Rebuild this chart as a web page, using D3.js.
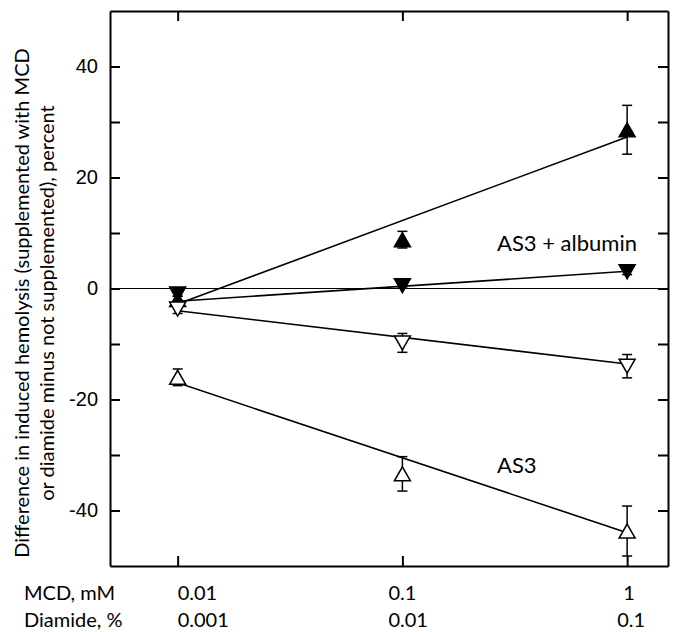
<!DOCTYPE html>
<html>
<head>
<meta charset="utf-8">
<script src="https://cdn.jsdelivr.net/npm/d3@7"></script>
<style>
  body { margin: 0; background: #fff; }
  svg { display: block; }
</style>
</head>
<body>
<div id="chart"></div>
<script>
// concentrations on the x axis (MCD, mM) and the matching diamide labels
var mcd = [0.01, 0.1, 1];
var mcdLabels = ["0.01", "0.1", "1"];
var diamideLabels = ["0.001", "0.01", "0.1"];
var yTicks = [-40, -30, -20, -10, 0, 10, 20, 30, 40];

// AS3 + albumin
var albUp = [-2.0, 8.8, 28.6];
var albUpErr = [0.6, 1.5, 4.4];
var albUpFit = [-2.8, 27.3];
var albDown = [-1.0, 0.5, 3.0];
var albDownErr = [0.4, 0.4, 0.5];
var albDownFit = [-2.3, 3.1];

// AS3
var as3Down = [-3.7, -9.8, -14.0];
var as3DownErr = [0.8, 1.7, 2.1];
var as3DownFit = [-4.0, -13.6];
var as3Up = [-16.0, -33.4, -43.7];
var as3UpErr = [1.5, 3.1, 4.5];
var as3UpFit = [-17.0, -44.0];

var width = 677, height = 632;
var plotLeft = 110, plotRight = 668, plotTop = 11, plotBottom = 566;

var svg = d3.select("#chart").append("svg")
    .attr("width", width)
    .attr("height", height);

svg.append("rect")
    .attr("width", width)
    .attr("height", height)
    .attr("fill", "#fff");

var x = d3.scaleLog().domain([0.005, 1.52]).range([plotLeft, plotRight]);
var y = d3.scaleLinear().domain([-50, 50]).range([plotBottom, plotTop]);

// frame with inward ticks on all four sides
function styleAxis(g) {
  g.selectAll("path.domain").attr("stroke", "#000").attr("stroke-width", 2);
  g.selectAll(".tick line").attr("stroke", "#000").attr("stroke-width", 2);
}

svg.append("g")
    .attr("transform", "translate(" + plotLeft + ",0)")
    .call(d3.axisLeft(y).tickValues(yTicks).tickSizeInner(-10).tickSizeOuter(0).tickPadding(12)
      .tickFormat(function(d) { return d % 20 === 0 ? d : ""; }))
    .call(styleAxis)
    .call(function(g) {
      g.selectAll("text")
        .attr("font-family", "Liberation Sans, Arial, sans-serif")
        .attr("font-size", 20)
        .attr("fill", "#000");
    });

svg.append("g")
    .attr("transform", "translate(" + plotRight + ",0)")
    .call(d3.axisRight(y).tickValues(yTicks).tickSizeInner(-10).tickSizeOuter(0).tickFormat(""))
    .call(styleAxis);

svg.append("g")
    .attr("transform", "translate(0," + plotBottom + ")")
    .call(d3.axisBottom(x).tickValues(mcd).tickSizeInner(-10).tickSizeOuter(0).tickFormat(""))
    .call(styleAxis);

svg.append("g")
    .attr("transform", "translate(0," + plotTop + ")")
    .call(d3.axisTop(x).tickValues(mcd).tickSizeInner(-10).tickSizeOuter(0).tickFormat(""))
    .call(styleAxis);

// zero line
svg.append("line")
    .attr("x1", plotLeft)
    .attr("x2", plotRight)
    .attr("y1", y(0))
    .attr("y2", y(0))
    .attr("stroke", "#000")
    .attr("stroke-width", 1.2);

var series = [
  {vals: albUp, err: albUpErr, fit: albUpFit, dir: 1, fill: "#000"},
  {vals: albDown, err: albDownErr, fit: albDownFit, dir: -1, fill: "#000"},
  {vals: as3Down, err: as3DownErr, fit: as3DownFit, dir: -1, fill: "#fff"},
  {vals: as3Up, err: as3UpErr, fit: as3UpFit, dir: 1, fill: "#fff"}
];

var fitX = [mcd[0], mcd[mcd.length - 1]];
var line = d3.line()
    .x(function(d) { return x(d[0]); })
    .y(function(d) { return y(d[1]); });

// regression lines
series.forEach(function(s) {
  svg.append("path")
      .attr("d", line(d3.zip(fitX, s.fit)))
      .attr("fill", "none")
      .attr("stroke", "#000")
      .attr("stroke-width", 1.6);
});

// error bars
series.forEach(function(s) {
  var g = svg.append("g").attr("stroke", "#000").attr("stroke-width", 1.5);
  mcd.forEach(function(c, i) {
    var hi = y(s.vals[i] + s.err[i]), lo = y(s.vals[i] - s.err[i]), cx = x(c);
    g.append("line").attr("x1", cx).attr("x2", cx).attr("y1", hi).attr("y2", lo);
    g.append("line").attr("x1", cx - 5).attr("x2", cx + 5).attr("y1", hi).attr("y2", hi);
    g.append("line").attr("x1", cx - 5).attr("x2", cx + 5).attr("y1", lo).attr("y2", lo);
  });
});

// triangle markers
function tri(dir) {
  var w = 8, h = 7;
  return dir > 0
    ? "M0," + (-h) + "L" + w + "," + h + "L" + (-w) + "," + h + "Z"
    : "M0," + h + "L" + w + "," + (-h) + "L" + (-w) + "," + (-h) + "Z";
}

series.forEach(function(s) {
  svg.append("g").selectAll("path")
      .data(s.vals)
      .join("path")
      .attr("transform", function(d, i) { return "translate(" + x(mcd[i]) + "," + y(d) + ")"; })
      .attr("d", tri(s.dir))
      .attr("fill", s.fill)
      .attr("stroke", "#000")
      .attr("stroke-width", 1.5);
});

var font = "Lato, 'Open Sans', sans-serif";
var fs = 20;

svg.append("text")
    .attr("x", 497)
    .attr("y", 251)
    .text("AS3 + albumin")
    .attr("font-family", font)
    .attr("font-size", 22)
    .attr("fill", "#000");

svg.append("text")
    .attr("x", 497)
    .attr("y", 473)
    .text("AS3")
    .attr("font-family", font)
    .attr("font-size", 22)
    .attr("fill", "#000");

// y axis title, two rotated lines
var ytitle = svg.append("text")
    .attr("transform", "translate(29,303) rotate(-90)")
    .attr("text-anchor", "middle")
    .attr("font-family", font)
    .attr("font-size", fs)
    .attr("fill", "#000");
ytitle.append("tspan").attr("x", 0).attr("dy", 0)
    .text("Difference in induced hemolysis (supplemented with MCD");
ytitle.append("tspan").attr("x", 0).attr("dy", 25)
    .text("or diamide minus not supplemented), percent");

// x labels, two rows under the axis
var row1 = [0, -14, -4];
var row2 = [0, -14, -10];

svg.append("text")
    .attr("x", 24).attr("y", 600)
    .text("MCD, mM")
    .attr("font-family", font).attr("font-size", fs);

svg.append("text")
    .attr("x", 24).attr("y", 627)
    .text("Diamide, %")
    .attr("font-family", font).attr("font-size", fs);

svg.append("g").selectAll("text")
    .data(mcdLabels)
    .join("text")
    .attr("x", function(d, i) { return x(mcd[i]) + row1[i]; })
    .attr("y", 600)
    .text(function(d) { return d; })
    .attr("font-family", font).attr("font-size", fs);

svg.append("g").selectAll("text")
    .data(diamideLabels)
    .join("text")
    .attr("x", function(d, i) { return x(mcd[i]) + row2[i]; })
    .attr("y", 627)
    .text(function(d) { return d; })
    .attr("font-family", font).attr("font-size", fs);
</script>
</body>
</html>
